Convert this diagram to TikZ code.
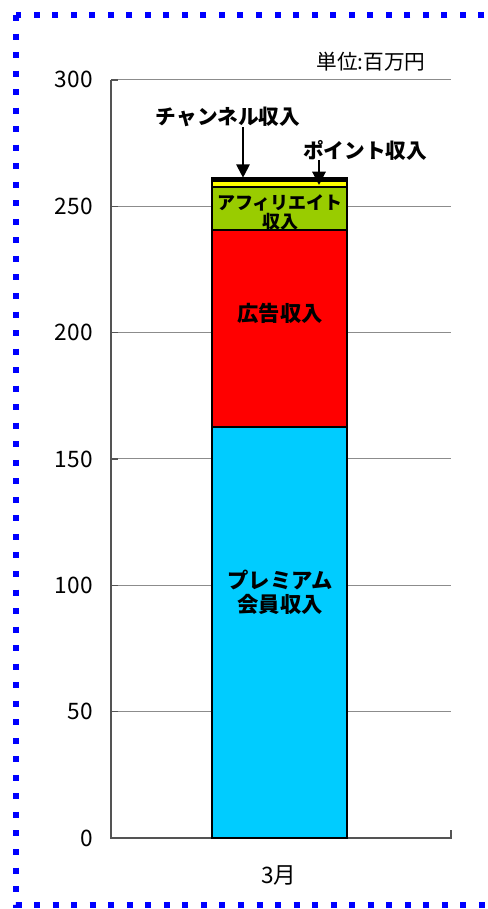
\documentclass[tikz,border=0pt]{standalone}
\usepackage{fontspec}
\setmainfont{Noto Sans CJK JP}
\usetikzlibrary{arrows.meta}
\definecolor{premium}{HTML}{00CCFF}
\definecolor{adv}{HTML}{FF0000}
\definecolor{affil}{HTML}{99CC00}
\definecolor{pointc}{HTML}{FFFF00}
\definecolor{frame}{HTML}{0000FF}
\definecolor{gridc}{HTML}{8C8C8C}
\tikzset{
  seg/.style={draw=black, line width=1.2pt},
  gridline/.style={draw=gridc, line width=0.8pt},
  axisline/.style={draw=gridc!60!black, line width=1pt},
  ticklab/.style={font=\fontsize{17}{17}\selectfont, anchor=east, inner sep=0pt},
  barlab/.style={font=\fontsize{16}{18}\selectfont\bfseries, align=center, inner sep=0pt},
  call/.style={draw=black, line width=1.5pt, -{Triangle[width=10pt,length=10pt]}},
  callab/.style={font=\fontsize{15.5}{15.5}\selectfont\bfseries, inner sep=0pt},
}
\begin{document}
\begin{tikzpicture}[x=0.75pt,y=-0.75pt]
  \def\ppu{2.527}
  \def\yz{838}
  \useasboundingbox (0,0) rectangle (488,909);
  \clip (0,0) rectangle (488,909);
  % frame
  \draw[frame, line width=4.5pt, dash pattern=on 4.5pt off 9.4pt] (16,15) rectangle (500,905);
  % grid and ticks
  \foreach \v in {50,100,...,300}
    \draw[gridline] (111,{\yz-\ppu*\v}) -- (451,{\yz-\ppu*\v});
  \foreach \v in {0,50,...,300}{
    \draw[axisline] (111,{\yz-\ppu*\v}) -- (118,{\yz-\ppu*\v});
    \node[ticklab] (ylab\v) at (93,{\yz-\ppu*\v}) {\v};
  }
  \draw[axisline] (111,{\yz-\ppu*300}) -- (111,\yz) -- (451,\yz) -- (451,830);
  % stacked bar
  \filldraw[seg, fill=premium] (212,\yz) rectangle (347,{\yz-\ppu*162.6});
  \filldraw[seg, fill=adv] (212,{\yz-\ppu*162.6}) rectangle (347,{\yz-\ppu*240.6});
  \filldraw[seg, fill=affil] (212,{\yz-\ppu*240.6}) rectangle (347,{\yz-\ppu*257.6});
  \filldraw[seg, fill=pointc] (212,{\yz-\ppu*257.6}) rectangle (347,{\yz-\ppu*260});
  \filldraw[seg, fill=black] (212,{\yz-\ppu*260}) rectangle (347,{\yz-\ppu*261.3});
  \node[barlab] (prem) at (280,592) {プレミアム\\会員収入};
  \node[barlab] (adlab) at (280,313) {広告収入};
  \node[barlab, font=\fontsize{13.5}{14.3}\selectfont\bfseries] (aflab) at (280,212) {アフィリエイト\\収入};
  % callouts
  \node[callab] (chlab) at (228,117) {チャンネル収入};
  \node[callab] (ptlab) at (365,150) {ポイント収入};
  \coordinate (chtip) at (243,{\yz-\ppu*261.3});
  \coordinate (pttip) at (319,185);
  \draw[call] (chlab.south -| chtip) -- (chtip);
  \draw[call] (ptlab.south -| pttip) -- (pttip);
  % texts
  \node[font=\fontsize{15.5}{15.5}\selectfont, inner sep=0pt] (unit) at (371,62) {単位:百万円};
  \node[font=\fontsize{17}{17}\selectfont, inner sep=0pt] (month) at (279,875) {3月};
\end{tikzpicture}
\end{document}
